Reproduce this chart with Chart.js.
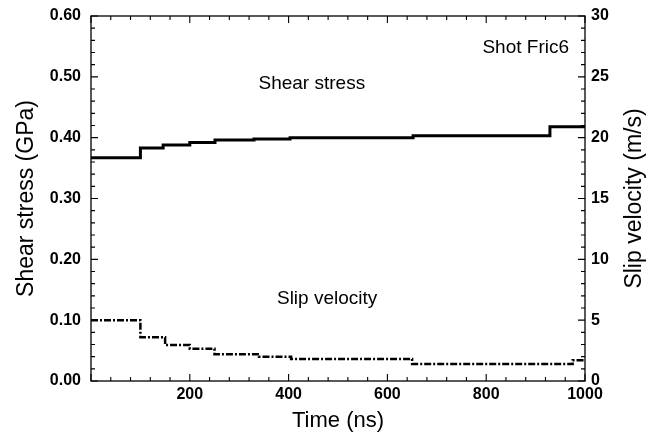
<!DOCTYPE html>
<html>
<head>
<meta charset="utf-8">
<script src="https://cdn.jsdelivr.net/npm/chart.js@4.4.1/dist/chart.umd.min.js"></script>
<style>
  html, body { margin: 0; padding: 0; background: #fff; }
  #wrap { width: 659px; height: 442px; }
</style>
</head>
<body>
<div id="wrap"><canvas id="chart"></canvas></div>
<script>
// step times (ns) and values
const stressTimes = [0, 100, 146, 200, 251, 330, 403, 652, 929, 1000];
const stressGPa = [0.367, 0.383, 0.388, 0.392, 0.396, 0.398, 0.400, 0.403, 0.418, 0.418];

const slipTimes = [0, 100, 150, 200, 250, 340, 405, 650, 975, 1000];
const slipVelocity = [5.0, 3.6, 2.95, 2.65, 2.2, 2.0, 1.8, 1.4, 1.7, 1.75];

const timeTicks = { min: 0, max: 1000, major: 200, minor: 40 };
const stressTicks = { min: 0, max: 0.6, major: 0.1, minor: 0.02 };
const slipTicks = { min: 0, max: 30, major: 5, minor: 1 };

const notes = [
  { text: 'Shear stress', x: 447, y: 0.488, size: 19 },
  { text: 'Slip velocity', x: 478, y: 0.136, size: 19 },
  { text: 'Shot Fric6', x: 880, y: 0.547, size: 19 },
];

const FONT = "'Liberation Sans', Arial, Helvetica, sans-serif";
const RIGHT_TITLE = 'Slip velocity (m/s)';

const toPoints = (xs, ys) => xs.map((x, i) => ({ x, y: ys[i] }));

// inward ticks on all four sides, frame, notes and the upward-reading right title
const framePlugin = {
  id: 'framePlugin',
  afterDatasetsDraw(chart) {
    const { ctx, chartArea: a, scales } = chart;
    ctx.save();
    ctx.strokeStyle = '#000';
    ctx.lineWidth = 1.3;
    ctx.strokeRect(a.left, a.top, a.right - a.left, a.bottom - a.top);

    ctx.beginPath();
    const nx = Math.round((timeTicks.max - timeTicks.min) / timeTicks.minor);
    for (let i = 0; i <= nx; i++) {
      const v = timeTicks.min + i * timeTicks.minor;
      const px = scales.x.getPixelForValue(v);
      const len = Math.abs(v / timeTicks.major - Math.round(v / timeTicks.major)) < 1e-6 ? 7 : 4;
      ctx.moveTo(px, a.bottom); ctx.lineTo(px, a.bottom - len);
      ctx.moveTo(px, a.top); ctx.lineTo(px, a.top + len);
    }
    const ny = Math.round((stressTicks.max - stressTicks.min) / stressTicks.minor);
    for (let i = 0; i <= ny; i++) {
      const v = stressTicks.min + i * stressTicks.minor;
      const py = scales.y.getPixelForValue(v);
      const len = i % Math.round(stressTicks.major / stressTicks.minor) === 0 ? 7 : 4;
      ctx.moveTo(a.left, py); ctx.lineTo(a.left + len, py);
    }
    const nr = Math.round((slipTicks.max - slipTicks.min) / slipTicks.minor);
    for (let i = 0; i <= nr; i++) {
      const v = slipTicks.min + i * slipTicks.minor;
      const py = scales.y2.getPixelForValue(v);
      const len = i % Math.round(slipTicks.major / slipTicks.minor) === 0 ? 7 : 4;
      ctx.moveTo(a.right, py); ctx.lineTo(a.right - len, py);
    }
    ctx.lineWidth = 1.1;
    ctx.stroke();

    ctx.fillStyle = '#000';
    ctx.textAlign = 'center';
    ctx.textBaseline = 'middle';
    for (const n of notes) {
      ctx.font = `${n.size}px ${FONT}`;
      ctx.fillText(n.text, scales.x.getPixelForValue(n.x), scales.y.getPixelForValue(n.y));
    }

    ctx.font = `23px ${FONT}`;
    ctx.translate(scales.y2.right - 24, (a.top + a.bottom) / 2);
    ctx.rotate(-Math.PI / 2);
    ctx.fillText(RIGHT_TITLE, 0, 0);
    ctx.restore();
  },
};

const tickFont = { family: FONT, size: 16, weight: 'bold' };

// fixed axis boxes so the plot area lands where the reference has it
const fixWidth = (w) => (s) => { s.width = w; s.paddingTop = 0; s.paddingBottom = 0; };
const fixHeight = (h) => (s) => { s.height = h; s.paddingLeft = 0; s.paddingRight = 0; };

new Chart(document.getElementById('chart'), {
  type: 'line',
  data: {
    datasets: [
      {
        label: 'Shear stress',
        data: toPoints(stressTimes, stressGPa),
        yAxisID: 'y',
        stepped: true,
        borderColor: '#000',
        borderWidth: 3,
        pointRadius: 0,
      },
      {
        label: 'Slip velocity',
        data: toPoints(slipTimes, slipVelocity),
        yAxisID: 'y2',
        stepped: true,
        borderColor: '#000',
        borderWidth: 2.5,
        borderDash: [7, 2, 2, 2],
        pointRadius: 0,
      },
    ],
  },
  options: {
    responsive: true,
    maintainAspectRatio: false,
    animation: false,
    layout: { padding: { top: 16, left: 0, right: 0, bottom: 0 } },
    plugins: { legend: { display: false }, tooltip: { enabled: false } },
    scales: {
      x: {
        type: 'linear',
        min: timeTicks.min,
        max: timeTicks.max,
        grid: { display: false, drawTicks: false },
        border: { display: false },
        ticks: {
          stepSize: timeTicks.major,
          color: '#000',
          font: tickFont,
          padding: 4,
          maxRotation: 0,
          callback: (v) => (v === 0 ? '' : v),
        },
        title: { display: true, text: 'Time (ns)', color: '#000', font: { family: FONT, size: 22 }, padding: { top: 0, bottom: 8 } },
        afterFit: fixHeight(61),
      },
      y: {
        position: 'left',
        min: stressTicks.min,
        max: stressTicks.max,
        grid: { display: false, drawTicks: false },
        border: { display: false },
        ticks: {
          stepSize: stressTicks.major,
          color: '#000',
          font: tickFont,
          padding: 10,
          callback: (v) => Number(v).toFixed(2),
        },
        title: { display: true, text: 'Shear stress (GPa)', color: '#000', font: { family: FONT, size: 23 }, padding: { top: 13, bottom: 0 } },
        afterFit: fixWidth(91),
      },
      y2: {
        position: 'right',
        min: slipTicks.min,
        max: slipTicks.max,
        grid: { display: false, drawTicks: false },
        border: { display: false },
        ticks: {
          stepSize: slipTicks.major,
          color: '#000',
          font: tickFont,
          padding: 6,
        },
        title: { display: false },
        afterFit: fixWidth(74),
      },
    },
  },
  plugins: [framePlugin],
});
</script>
</body>
</html>
